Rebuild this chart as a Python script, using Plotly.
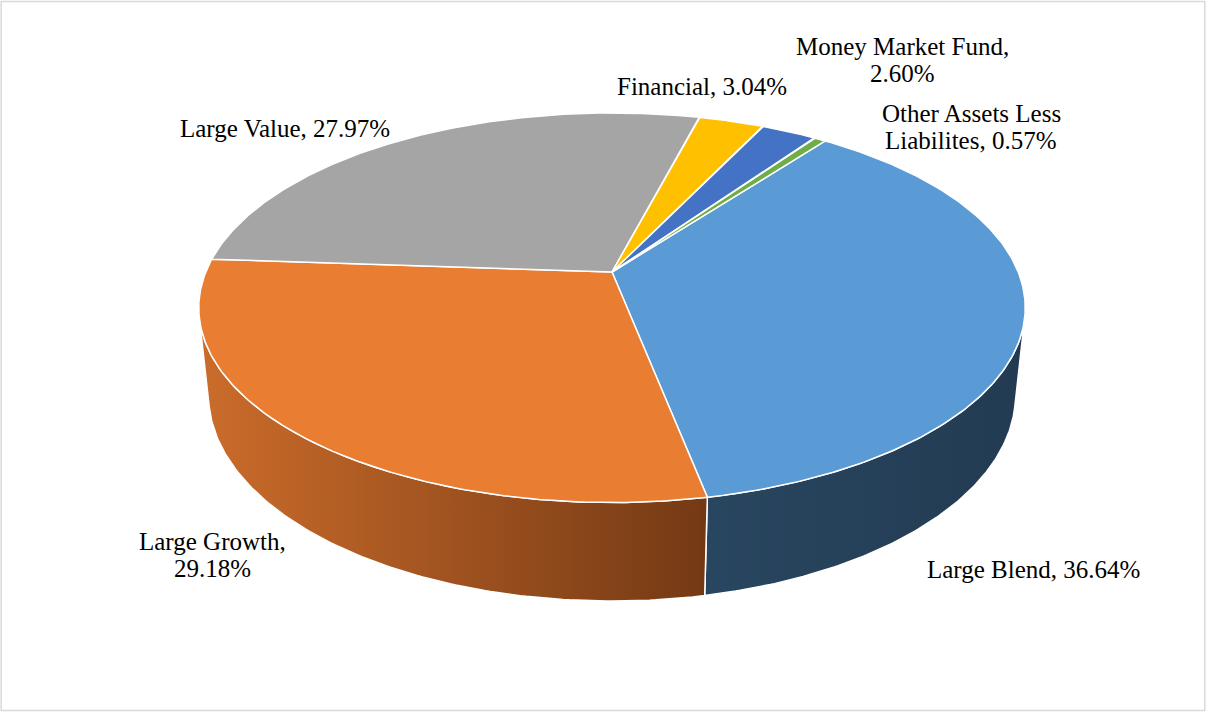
import numpy as np
import plotly.graph_objects as go

# -------------------------------------------------------
# Datos
# -------------------------------------------------------
labels = ["Large Blend", "Large Growth", "Large Value", "Financial",
          "Money Market Fund", "Other Assets Less Liabilites"]
values = [36.64, 29.18, 27.97, 3.04, 2.60, 0.57]

top_colors = ["#5B9BD5", "#E97D31", "#A5A5A5", "#FFC000", "#4472C4", "#70AD47"]
side_colors = [("#294660", "#223B52"), ("#CB6C2B", "#743914"), ("#8C8C8C", "#6E6E6E"),
               ("#D9A300", "#B38600"), ("#3A61A7", "#2F4F88"), ("#5F933C", "#4D7831")]

# etiquetas (una lista de lineas por porcion)
label_lines = [["Large Blend, 36.64%"], ["Large Growth,", "29.18%"], ["Large Value, 27.97%"],
               ["Financial, 3.04%"], ["Money Market Fund,", "2.60%"],
               ["Other Assets Less", "Liabilites, 0.57%"]]
label_pos = [(1033, 569), (212, 555), (285, 128), (702, 86), (902, 60), (971, 127)]
LINE_GAP = 27

# -------------------------------------------------------
# Proyeccion en perspectiva del pastel 3D
# -------------------------------------------------------
TILT = np.radians(27.6)
DIST, FOCAL, DEPTH = 4.83, 1962, 0.245
CX, CY = 612, 272
START = 37.0  # grados, sentido horario desde el fondo
SIL = np.degrees(np.arccos(-1 / (DIST * np.cos(TILT))))  # silueta lateral


def project(theta_deg, h):
    t = np.radians(theta_deg)
    X, Z = np.sin(t), -np.cos(t)
    s, c = np.sin(TILT), np.cos(TILT)
    d = DIST - s * h - c * Z
    return CX + FOCAL * X / d, CY + FOCAL * (s * Z - c * h) / d


cum = np.concatenate([[0], np.cumsum(values)])
angles = START + 360 * cum / cum[-1]

fig = go.Figure()

# paredes laterales visibles
for i in range(len(values)):
    a0, a1 = angles[i], angles[i + 1]
    for shift in (0, 360, -360):
        lo, hi = max(a0 + shift, SIL), min(a1 + shift, 360 - SIL)
        if hi <= lo:
            continue
        th = np.linspace(lo, hi, 120)
        xt, yt = project(th, 0)
        xb, yb = project(th[::-1], -DEPTH)
        fig.add_trace(go.Scatter(
            x=np.concatenate([xt, xb, xt[:1]]), y=np.concatenate([yt, yb, yt[:1]]),
            mode="lines", fill="toself",
            fillgradient=dict(type="horizontal",
                              colorscale=[[0, side_colors[i][0]], [1, side_colors[i][1]]]),
            line=dict(color="white", width=1.5), hoverinfo="skip", showlegend=False))

# cara superior
for i in range(len(values)):
    th = np.linspace(angles[i], angles[i + 1], 200)
    xs, ys = project(th, 0)
    fig.add_trace(go.Scatter(
        x=np.concatenate([[CX], xs, [CX]]), y=np.concatenate([[CY], ys, [CY]]),
        mode="lines", fill="toself", fillcolor=top_colors[i],
        line=dict(color="white", width=1.5), name=labels[i],
        hoverinfo="name", showlegend=False))

for lines, (x, y) in zip(label_lines, label_pos):
    y0 = y - LINE_GAP * (len(lines) - 1) / 2
    for k, txt in enumerate(lines):
        fig.add_annotation(x=x, y=y0 + k * LINE_GAP, text=txt, showarrow=False,
                           xanchor="center", yanchor="middle",
                           font=dict(family="Liberation Serif", size=25, color="black"))

fig.add_shape(type="rect", xref="paper", yref="paper", x0=0.001, y0=0.002, x1=0.999, y1=0.998,
              line=dict(color="#D9D9D9", width=1.5))

fig.update_xaxes(range=[0, 1206], visible=False, fixedrange=True)
fig.update_yaxes(range=[712, 0], visible=False, fixedrange=True)
fig.update_layout(width=1206, height=712, margin=dict(l=0, r=0, t=0, b=0),
                  plot_bgcolor="white", paper_bgcolor="white")

fig.write_html("out.html", config={"displayModeBar": False},
               post_script="document.body.style.margin='0';"
                           "document.documentElement.style.overflow='hidden';")
